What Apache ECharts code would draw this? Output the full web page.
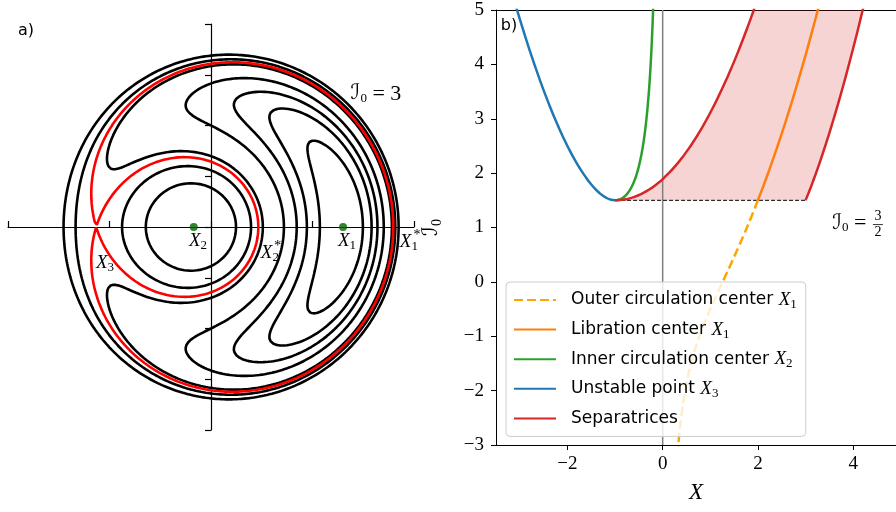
<!DOCTYPE html>
<html><head><meta charset="utf-8">
<script src="https://cdn.jsdelivr.net/npm/echarts@6/dist/echarts.min.js"></script>
<style>html,body{margin:0;padding:0;background:#fff}#c{width:896px;height:512px}</style>
</head><body><div id="c"></div>
<script>
// ---------------- data ----------------
// left panel: phase portrait at I0 = 3
const leftI0 = 3;
const contourLevels = [-12.8, -11.3, -9.9, -8.0, -4.9, -3.35, -1.7];
const saddlePoint = [-2.26182, 0];          // X3, the separatrix passes through it
const centerPoints = [[2.602, 0], [-0.340, 0]];

// right panel: equilibria and separatrices vs I0, as [X, I0]
const outerCirculation = [[2.0,1.5],[1.9,1.2787],[1.8,1.0644],[1.7,0.8568],[1.6,0.655],[1.5,0.4583],[1.4,0.2657],[1.3,0.0758],[1.2,-0.1133],[1.1,-0.3041],[1.0,-0.5],[0.9,-0.7061],[0.8,-0.93],[0.7,-1.1836],[0.6,-1.4867],[0.5,-1.875],[0.45,-2.121],[0.4,-2.42],[0.35,-2.7959],[0.32,-3.0738]];
const librationCenter = [[2.0,1.5],[2.1,1.7288],[2.2,1.9655],[2.4,2.4633],[2.6,2.9954],[2.8,3.5629],[3.0,4.1667],[3.2,4.8075],[3.3,5.142]];
const innerCirculation = [[-1,1.5],[-0.95,1.5039],[-0.9,1.5161],[-0.85,1.5377],[-0.8,1.57],[-0.75,1.6146],[-0.7,1.6736],[-0.65,1.7497],[-0.6,1.8467],[-0.55,1.9694],[-0.5,2.125],[-0.45,2.3235],[-0.4,2.58],[-0.35,2.9184],[-0.3,3.3783],[-0.275,3.6742],[-0.25,4.0313],[-0.225,4.4697],[-0.2,5.02],[-0.19,5.2812]];
const unstablePoint = [[-1,1.5],[-1.1,1.5141],[-1.2,1.5533],[-1.3,1.6142],[-1.4,1.6943],[-1.5,1.7917],[-1.6,1.905],[-1.8,2.1756],[-2.0,2.5],[-2.2,2.8745],[-2.4,3.2967],[-2.6,3.7646],[-2.8,4.2771],[-3.0,4.8333],[-3.1,5.1276]];
const separatrixLeft = [[-1,1.5],[-0.9018,1.5036],[-0.8069,1.5141],[-0.715,1.5308],[-0.6257,1.5533],[-0.4541,1.6142],[-0.2903,1.6943],[-0.133,1.7917],[0.0189,1.905],[0.3093,2.1756],[0.5858,2.5],[0.8516,2.8745],[1.109,3.2967],[1.3597,3.7646],[1.6048,4.2771],[1.8453,4.8333],[1.9641,5.1276]];
const separatrixRight = [[3.0,1.5],[3.0018,1.5036],[3.0069,1.5141],[3.015,1.5308],[3.0257,1.5533],[3.0541,1.6142],[3.0903,1.6943],[3.133,1.7917],[3.1811,1.905],[3.2907,2.1756],[3.4142,2.5],[3.5484,2.8745],[3.691,3.2967],[3.8403,3.7646],[3.9952,4.2771],[4.1547,4.8333],[4.2359,5.1276]];
const bifurcationLine = [[-1,1.5],[3,1.5]];
const zeroLine = [[0,-3],[0,5]];
const rightXTicks = [-2, 0, 2, 4];

// ---------------- contouring of the phase portrait ----------------
function hamiltonian(x, y) { const r2 = x*x + y*y; return r2*r2/4 - leftI0*r2 - 2*x; }
const separatrixLevel = hamiltonian(saddlePoint[0], saddlePoint[1]);
function contour(level, n) {
  const xmin=-4, ymin=-4, dx=8/n, dy=8/n, W=n+1;
  const V = new Float64Array(W*W);
  for (let j=0;j<=n;j++) for (let i=0;i<=n;i++) V[j*W+i] = hamiltonian(xmin+i*dx, ymin+j*dy) - level;
  const adj = new Map();
  const add = (a,b)=>{ if(!adj.has(a)) adj.set(a,[]); adj.get(a).push(b); };
  const link = (a,b)=>{ add(a,b); add(b,a); };
  const Hk=(i,j)=>(j*W+i)*2, Vk=(i,j)=>(j*W+i)*2+1;
  for (let j=0;j<n;j++) for (let i=0;i<n;i++) {
    const a=V[j*W+i], b=V[j*W+i+1], c=V[(j+1)*W+i+1], d=V[(j+1)*W+i];
    const sa=a>0, sb=b>0, sc=c>0, sd=d>0;
    const bo=sa!==sb, ri=sb!==sc, to=sc!==sd, le=sa!==sd;
    const cnt=bo+ri+to+le;
    if (cnt===2) {
      const es=[]; if(bo)es.push(Hk(i,j)); if(ri)es.push(Vk(i+1,j)); if(to)es.push(Hk(i,j+1)); if(le)es.push(Vk(i,j));
      link(es[0],es[1]);
    } else if (cnt===4) {
      const cen=(a+b+c+d)/4>0;
      if (cen===sa) { link(Hk(i,j),Vk(i+1,j)); link(Hk(i,j+1),Vk(i,j)); }
      else { link(Hk(i,j),Vk(i,j)); link(Hk(i,j+1),Vk(i+1,j)); }
    }
  }
  const pt = k => {
    const idx=k>>1, i=idx%W, j=(idx-i)/W;
    if ((k&1)===0) { const a=V[idx], b=V[idx+1], t=a/(a-b); return [xmin+(i+t)*dx, ymin+j*dy]; }
    const a=V[idx], b=V[idx+W], t=a/(a-b); return [xmin+i*dx, ymin+(j+t)*dy];
  };
  const seen=new Set(), lines=[];
  for (const s of adj.keys()) {
    if (seen.has(s)) continue;
    seen.add(s);
    const fwd=[s]; let cur=s;
    while (true) { const nb=adj.get(cur).find(k=>!seen.has(k)); if(nb===undefined)break; seen.add(nb); fwd.push(nb); cur=nb; }
    const back=[]; cur=s;
    while (true) { const nb=adj.get(cur).find(k=>!seen.has(k)); if(nb===undefined)break; seen.add(nb); back.push(nb); cur=nb; }
    const seq=back.reverse().concat(fwd);
    if (adj.get(seq[seq.length-1]).includes(seq[0])) seq.push(seq[0]);
    lines.push(seq.map(pt));
  }
  return lines;
}

// ---------------- chart ----------------
const chart = echarts.init(document.getElementById('c'));
const serif = 'Liberation Serif, DejaVu Serif, serif';
const mathRich = {
  x: {fontFamily: serif, fontStyle: 'italic', fontSize: 19, lineHeight: 22, verticalAlign: 'middle'},
  c: {fontFamily: 'DejaVu Serif, DejaVu Sans', fontSize: 19, lineHeight: 22, verticalAlign: 'middle'},
  s: {fontFamily: serif, fontSize: 13, lineHeight: 12, verticalAlign: 'bottom'},
  e: {fontFamily: serif, fontSize: 20, lineHeight: 22, verticalAlign: 'middle'}
};
const bigRich = Object.assign({}, mathRich, {
  c: {fontFamily:'DejaVu Serif, DejaVu Sans', fontSize:21, lineHeight:22, verticalAlign:'middle'},
  e: {fontFamily: serif, fontSize:22, lineHeight:22, verticalAlign:'middle'}
});
const minus = v => v < 0 ? '\u2212' + (-v) : '' + v;

const series = [];
contourLevels.forEach(L => {
  contour(L, 320).forEach(line => series.push({type:'line', xAxisIndex:0, yAxisIndex:0, data:line, showSymbol:false, symbol:'none', silent:true, z:3,
    lineStyle:{color:'#000', width:2.6}}));
});
contour(separatrixLevel, 641).forEach(line => series.push({type:'line', xAxisIndex:0, yAxisIndex:0, data:line, symbol:'none', silent:true, z:4,
  lineStyle:{color:'#ff0000', width:2.6}}));
series.push({type:'scatter', xAxisIndex:0, yAxisIndex:0, data:centerPoints, symbolSize:8, itemStyle:{color:'#006400'}, z:5, silent:true});

const fillPolygon = separatrixLeft.concat(separatrixRight.slice().reverse());
series.push({type:'custom', xAxisIndex:1, yAxisIndex:1, clip:true, z:1, silent:true, data:[[0,0]],
  renderItem:(p, api)=>({type:'polygon', shape:{points: fillPolygon.map(q=>api.coord(q))}, style:{fill:'rgba(214,39,40,0.2)'}})});
series.push({type:'line', xAxisIndex:1, yAxisIndex:1, data:zeroLine, symbol:'none', silent:true, z:2, lineStyle:{color:'#808080', width:1.5}});
series.push({type:'line', xAxisIndex:1, yAxisIndex:1, data:bifurcationLine, symbol:'none', silent:true, z:2, lineStyle:{color:'#000', width:1, type:[4,2]}});
const rs = (name, data, color, extra) => series.push(Object.assign({type:'line', name, xAxisIndex:1, yAxisIndex:1, data, symbol:'none', smooth:true, silent:true, z:3,
  lineStyle:Object.assign({color, width:2.5}, extra||{}), itemStyle:{color}}));
rs('outer', outerCirculation, '#ffa500', {type:[9,4]});
rs('lib', librationCenter, '#ff7f0e');
rs('inner', innerCirculation, '#2ca02c');
rs('unstable', unstablePoint, '#1f77b4');
rs('sep', separatrixLeft, '#d62728');
rs('sep', separatrixRight, '#d62728');

const legendLabels = {
  outer: 'Outer circulation center {x|X}{s|1}',
  lib: 'Libration center {x|X}{s|1}',
  inner: 'Inner circulation center {x|X}{s|2}',
  unstable: 'Unstable point {x|X}{s|3}',
  sep: 'Separatrices'
};

chart.setOption({
  animation: false,
  backgroundColor: '#fff',
  grid: [
    {left: 8, top: 24, width: 406, height: 406},
    {left: 496, top: 10, width: 400, height: 435}
  ],
  xAxis: [
    {gridIndex:0, type:'value', min:-4, max:4, interval:2, axisLine:{onZero:true, lineStyle:{color:'#000', width:1.2}},
      axisTick:{inside:true, length:6, lineStyle:{color:'#000', width:1.2}}, axisLabel:{show:false}, splitLine:{show:false}},
    {gridIndex:1, type:'value', min:-3.5, max:4.9, axisLine:{onZero:false, lineStyle:{color:'#000', width:1}},
      axisTick:{length:5, customValues: rightXTicks, lineStyle:{color:'#000'}},
      axisLabel:{customValues: rightXTicks, formatter: minus, color:'#000', fontFamily: serif, fontSize:19, margin:10},
      splitLine:{show:false},
      name:'X', nameLocation:'middle', nameGap:36, nameTextStyle:{fontFamily: serif, fontStyle:'italic', fontSize:23, color:'#000'}},
    {gridIndex:1, type:'value', position:'top', min:-3.5, max:4.9, axisLine:{onZero:false, lineStyle:{color:'#000', width:1}},
      axisTick:{show:false}, axisLabel:{show:false}, splitLine:{show:false}}
  ],
  yAxis: [
    {gridIndex:0, type:'value', min:-4, max:4, interval:1, axisLine:{onZero:true, lineStyle:{color:'#000', width:1.2}},
      axisTick:{length:6, lineStyle:{color:'#000', width:1.2}}, axisLabel:{show:false}, splitLine:{show:false}},
    {gridIndex:1, type:'value', min:-3, max:5, interval:1, axisLine:{onZero:false, lineStyle:{color:'#000', width:1}},
      axisTick:{length:5, lineStyle:{color:'#000'}},
      axisLabel:{formatter: minus, color:'#000', fontFamily: serif, fontSize:19, margin:12},
      splitLine:{show:false},
      name:'{c|ℐ}{s|0}', nameLocation:'middle', nameRotate:90, nameGap:52,
      nameTextStyle:{color:'#000', rich:{c:{fontFamily:'DejaVu Serif, DejaVu Sans', fontSize:21, lineHeight:24, verticalAlign:'middle'}, s:{fontFamily: serif, fontSize:14, lineHeight:13, verticalAlign:'bottom'}}}}
  ],
  legend: {
    data: ['outer','lib','inner','unstable','sep'],
    formatter: n => legendLabels[n],
    orient: 'vertical', left: 506, top: 282,
    itemWidth: 42, itemHeight: 14, itemGap: 7.6,
    padding: [7, 9, 7, 7],
    itemStyle: {opacity: 0},
    backgroundColor: 'rgba(255,255,255,0.8)', borderColor: '#cccccc', borderWidth: 1, borderRadius: 4,
    selectedMode: false,
    textStyle: {fontFamily: 'DejaVu Sans', fontSize: 17, lineHeight: 22, color: '#000', padding: [0,0,0,10], rich: mathRich}
  },
  series
});

// ---------------- annotations ----------------
const P0 = (x, y) => chart.convertToPixel({xAxisIndex:0, yAxisIndex:0}, [x, y]);
const P1 = (x, y) => chart.convertToPixel({xAxisIndex:1, yAxisIndex:1}, [x, y]);
const txt = (p, text, extra) => Object.assign({type:'text', x:p[0], y:p[1], silent:true, z:10,
  style:Object.assign({text, rich:mathRich, fill:'#000', align:'center', verticalAlign:'middle'}, extra||{})});
const g = [];
g.push(txt(P0(-0.256,-0.276), '{x|X}{s|2}'));
g.push(txt(P0(2.68,-0.276), '{x|X}{s|1}'));
g.push(txt(P0(3.90,-0.30), '{x|X}{s|1}'));
g.push(txt(P0(1.16,-0.52), '{x|X}{s|2}'));
g.push(txt(P0(-2.09,-0.71), '{x|X}{s|3}'));
const s1 = P0(3.90,-0.30), s2 = P0(1.16,-0.52);
g.push(txt([s1[0]+8, s1[1]-7], '*', {font:'14px ' + serif}));
g.push(txt([s2[0]+8, s2[1]-7], '*', {font:'14px ' + serif}));
g.push(txt(P0(3.25,2.62), '{c|ℐ}{s|0}{e| = 3}', {rich: bigRich}));
// right panel fraction label
const q = P1(4.10, 1.10);
g.push(txt([q[0]+14, q[1]+1], '{c|ℐ}{s|0}{e| = }', {align:'right', rich: bigRich}));
g.push(txt([q[0]+20, q[1]-6], '3', {font:'14px ' + serif}));
g.push(txt([q[0]+20, q[1]+10], '2', {font:'14px ' + serif}));
g.push({type:'line', silent:true, z:10, shape:{x1:q[0]+15, y1:q[1]+2.5, x2:q[0]+25, y2:q[1]+2.5}, style:{stroke:'#000', lineWidth:0.8}});
g.push({type:'text', x:26, y:31, silent:true, style:{text:'a)', font:'16px DejaVu Sans', fill:'#000', align:'center', verticalAlign:'middle'}});
g.push({type:'text', x:509, y:26, silent:true, style:{text:'b)', font:'16px DejaVu Sans', fill:'#000', align:'center', verticalAlign:'middle'}});
chart.setOption({graphic: g});
</script></body></html>
